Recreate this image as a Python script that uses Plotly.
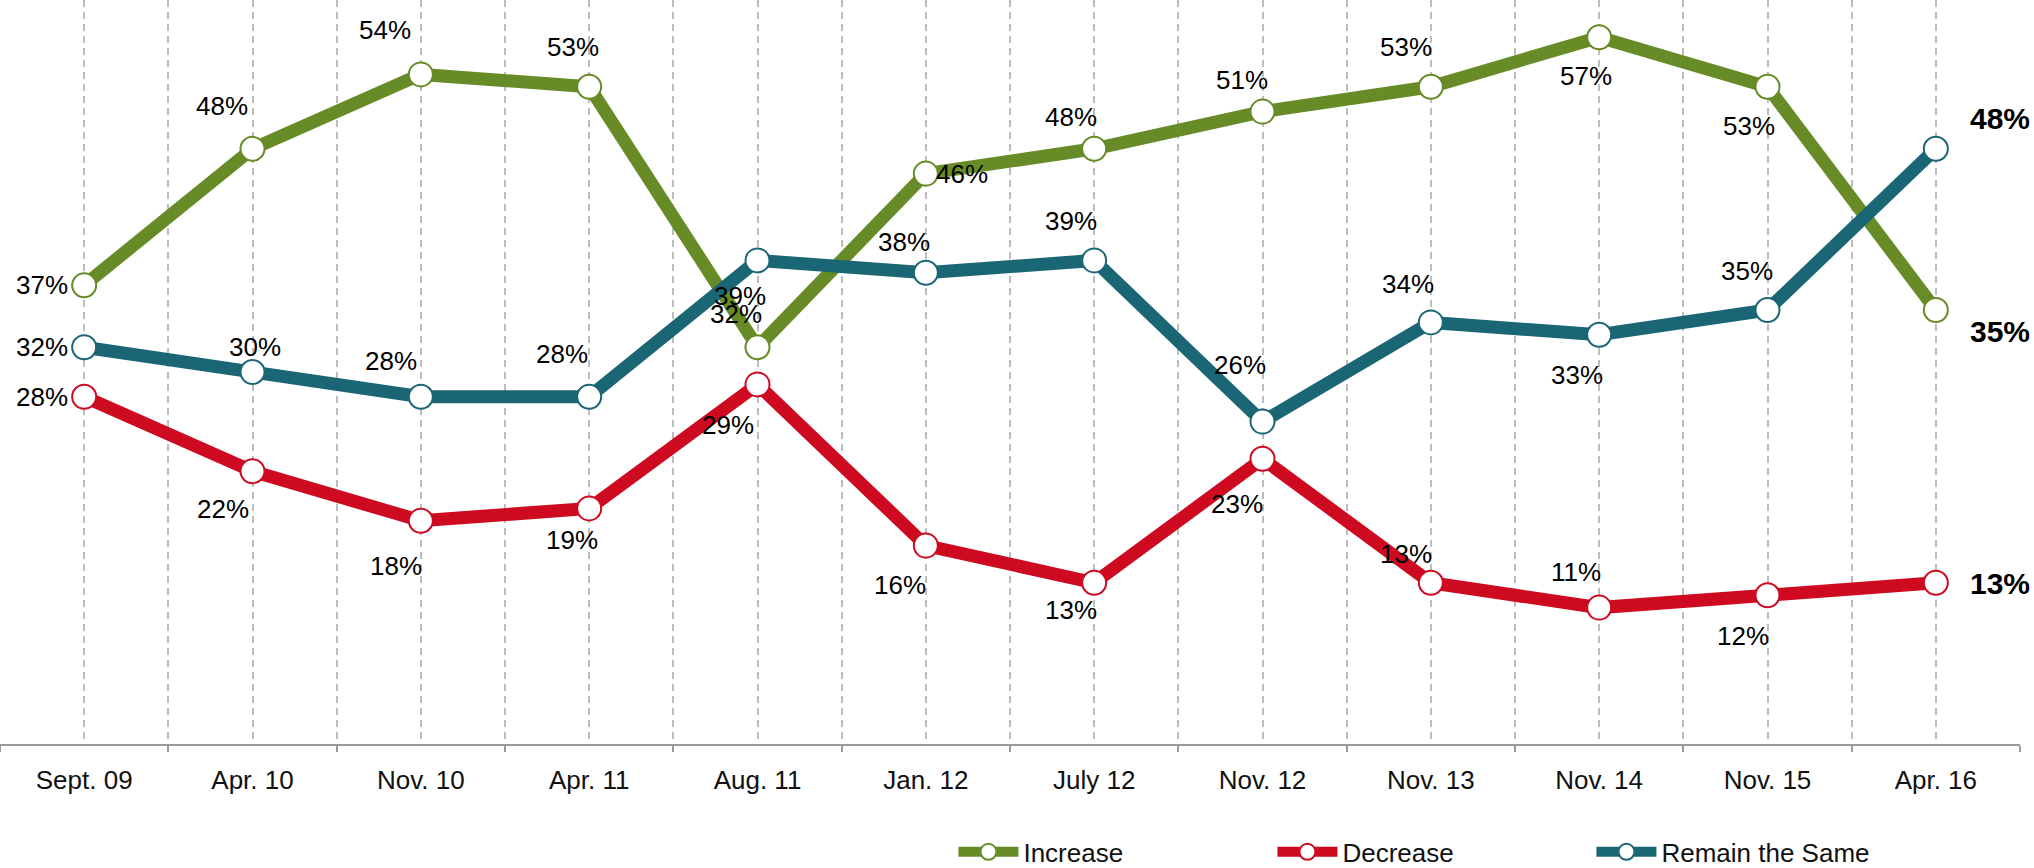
import plotly.graph_objects as go

categories = ["Sept. 09", "Apr. 10", "Nov. 10", "Apr. 11", "Aug. 11", "Jan. 12",
              "July 12", "Nov. 12", "Nov. 13", "Nov. 14", "Nov. 15", "Apr. 16"]
increase = [37, 48, 54, 53, 32, 46, 48, 51, 53, 57, 53, 35]
decrease = [28, 22, 18, 19, 29, 16, 13, 23, 13, 11, 12, 13]
remain = [32, 30, 28, 28, 39, 38, 39, 26, 34, 33, 35, 48]
series_names = ["Increase", "Decrease", "Remain the Same"]

# styling (label offsets in px relative to each point)
colors = ["#678B26", "#CE0A21", "#1B6674"]
offsets = [
    [(-42, 0), (-31, 43), (-36, 44), (-16, 40), (-22, 33), (36, 0), (-23, 32), (-21, 32), (-25, 40), (-13, -39), (-19, -39), (64, -21)],
    [(-42, 0), (-30, -38), (-25, -45), (-17, -32), (-30, -41), (-26, -39), (-23, -27), (-26, -45), (-25, 29), (-23, 36), (-25, -41), (64, -1)],
    [(-42, 0), (2, 25), (-30, 36), (-27, 43), (-18, -36), (-22, 31), (-23, 39), (-23, 57), (-23, 38), (-22, -40), (-21, 39), (64, 30)],
]

idx = list(range(len(categories)))
fig = go.Figure()
data = [increase, decrease, remain]
for name, vals, col in zip(series_names, data, colors):
    fig.add_trace(go.Scatter(
        x=idx, y=vals, name=name, mode="lines+markers",
        line=dict(color=col, width=13),
        marker=dict(size=24, color="white", line=dict(color=col, width=2)),
        hoverinfo="skip",
    ))

annotations = []
last = len(categories) - 1
for vals, offs in zip(data, offsets):
    for i, v in enumerate(vals):
        dx, dy = offs[i]
        bold = (i == last)
        annotations.append(dict(
            x=idx[i], y=v, xref="x", yref="y", text=f"{v}%", showarrow=False,
            xshift=dx, yshift=dy, xanchor="center", yanchor="middle",
            font=dict(family="Liberation Sans", size=30 if bold else 26,
                      color="#000", weight="bold" if bold else "normal"),
        ))

grid = dict(color="#BDBDBD", width=2, dash="7px,5px")
fig.update_layout(
    width=2034, height=868,
    margin=dict(l=0, r=14, t=0, b=124, autoexpand=False),
    plot_bgcolor="white", paper_bgcolor="white",
    font=dict(family="Liberation Sans", size=26, color="#111"),
    annotations=annotations,
    showlegend=True,
    legend=dict(orientation="h", x=0.472, xanchor="left", y=-0.145, yanchor="middle",
                font=dict(size=26, family="Liberation Sans", color="#111"),
                entrywidth=244, entrywidthmode="pixels", itemwidth=60,
                bgcolor="rgba(0,0,0,0)", traceorder="normal"),
    xaxis=dict(
        range=[-0.5, len(categories) - 0.5], tickmode="array", tickvals=idx, ticktext=categories,
        ticks="", showgrid=True, gridcolor=grid["color"], gridwidth=grid["width"], griddash=grid["dash"],
        showline=True, linecolor="#9A9A9A", linewidth=2, zeroline=False,
        ticklabelstandoff=12,
        tickfont=dict(family="Liberation Sans", size=26, color="#111"),
        minor=dict(tickmode="array", tickvals=[i - 0.5 for i in range(len(categories) + 1)],
                   ticks="outside", ticklen=6, tickwidth=2, tickcolor="#9A9A9A",
                   showgrid=True, gridcolor=grid["color"], gridwidth=grid["width"], griddash=grid["dash"]),
        fixedrange=True,
    ),
    yaxis=dict(range=[0, 60], showgrid=False, showticklabels=False, zeroline=False,
               showline=False, ticks="", fixedrange=True),
)

fig.write_html("out.html", config={"displayModeBar": False},
               post_script="document.body.style.margin='0';document.body.style.overflow='hidden';")
